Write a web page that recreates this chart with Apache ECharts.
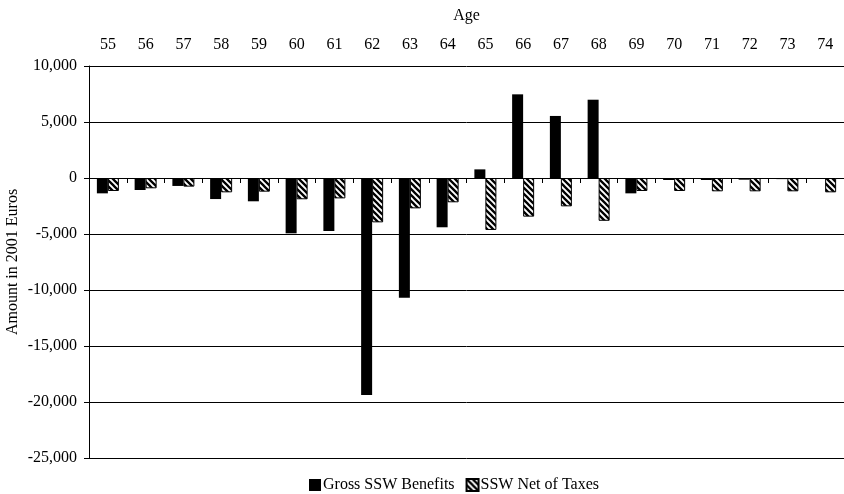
<!DOCTYPE html>
<html>
<head>
<meta charset="utf-8">
<script src="https://cdn.jsdelivr.net/npm/echarts@6/dist/echarts.min.js"></script>
<style>html,body{margin:0;padding:0;background:#fff}#c{width:844px;height:494px}</style>
</head>
<body>
<div id="c"></div>
<script>
const ages = ['55','56','57','58','59','60','61','62','63','64','65','66','67','68','69','70','71','72','73','74'];
const grossSSW = [-1370,-1070,-710,-1880,-2080,-4940,-4730,-19370,-10700,-4400,770,7470,5540,6990,-1370,-180,-180,-150,-100,-80];
const netSSW = [-1160,-920,-770,-1280,-1220,-1900,-1820,-3960,-2710,-2170,-4640,-3450,-2530,-3820,-1160,-1160,-1190,-1190,-1190,-1280];
const yTicks = [10000,5000,0,-5000,-10000,-15000,-20000,-25000];

const font = 'Liberation Serif, Times New Roman, serif';

function hatch(){
  const s = 6;
  const c = document.createElement('canvas');
  c.width = s; c.height = s;
  const g = c.getContext('2d');
  g.fillStyle = '#fff'; g.fillRect(0,0,s,s);
  g.strokeStyle = '#000'; g.lineWidth = 2.3;
  g.beginPath();
  g.moveTo(-1,-1); g.lineTo(s+1,s+1);
  g.moveTo(s-1,-1); g.lineTo(s+1,1);
  g.moveTo(-1,s-1); g.lineTo(1,s+1);
  g.stroke();
  return c;
}
const pat = {image: hatch(), repeat: 'repeat'};

const chart = echarts.init(document.getElementById('c'), null, {renderer:'canvas'});
chart.setOption({
  animation: false,
  backgroundColor: '#fff',
  textStyle: {fontFamily: font, color: '#000'},
  grid: {left: 89, right: 0, top: 66, bottom: 36, containLabel: false, outerBoundsMode: 'none'},
  legend: {
    bottom: -4, left: 304, itemWidth: 12, itemHeight: 12, itemGap: 11, icon: 'rect',
    textStyle: {fontFamily: font, fontSize: 16, color: '#000', padding: [0,0,0,-3]},
    data: ['Gross SSW Benefits','SSW Net of Taxes']
  },
  xAxis: [{
    type: 'category', data: ages, position: 'top',
    name: 'Age', nameLocation: 'middle', nameGap: 42,
    nameTextStyle: {fontFamily: font, fontSize: 16, color: '#000'},
    axisLine: {show: false, onZero: false}, axisTick: {show: false},
    axisLabel: {fontFamily: font, fontSize: 16, color: '#000', margin: 13}
  },{
    type: 'category', data: ages, position: 'bottom',
    axisLine: {show: true, onZero: true, onZeroAxisIndex: 0, lineStyle: {color: '#000', width: 1}},
    axisTick: {show: true, length: 5, inside: false, lineStyle: {color: '#000'}},
    axisLabel: {show: false}
  }],
  yAxis: {
    type: 'value', min: -25000, max: 10000, interval: 5000,
    name: 'Amount in 2001 Euros', nameLocation: 'middle', nameGap: 68, nameMoveOverlap: false,
    nameTextStyle: {fontFamily: font, fontSize: 16, color: '#000'},
    axisLine: {show: true, lineStyle: {color: '#000', width: 1}},
    axisTick: {show: true, length: 5, lineStyle: {color: '#000'}},
    axisLabel: {fontFamily: font, fontSize: 16, color: '#000', margin: 12,
      formatter: v => v.toLocaleString('en-US')},
    splitLine: {show: true, lineStyle: {color: '#000', width: 1}}
  },
  series: [{
    name: 'Gross SSW Benefits', type: 'bar', xAxisIndex: 0, data: grossSSW,
    barWidth: 11, barGap: '0%',
    itemStyle: {color: '#000'}
  },{
    name: 'SSW Net of Taxes', type: 'bar', xAxisIndex: 0, data: netSSW,
    barWidth: 11, barGap: '0%',
    itemStyle: {color: pat, borderColor: '#000', borderWidth: 1}
  }]
});
</script>
</body>
</html>
